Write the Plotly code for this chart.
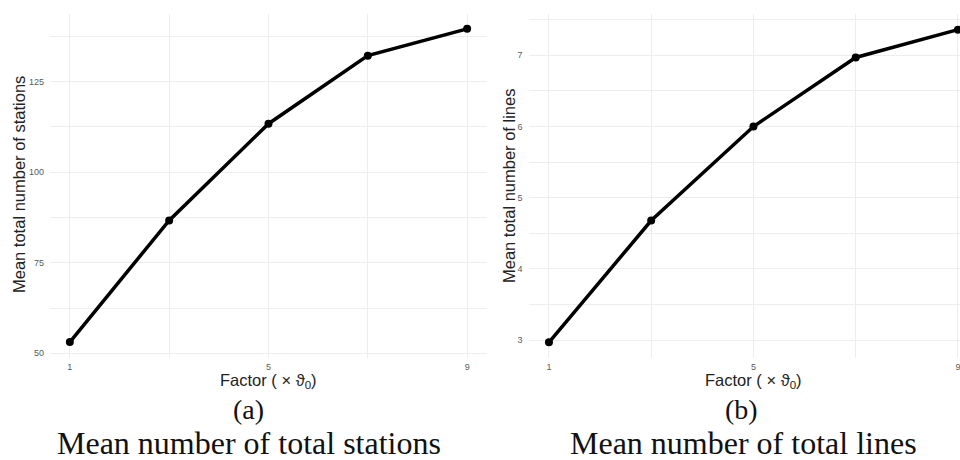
import plotly.graph_objects as go

# Scaling factor applied to theta_0
factor = [1, 3, 5, 7, 9]
# Mean total number of stations per factor
stations = [53.1, 86.7, 113.4, 132.2, 139.6]
# Mean total number of lines per factor
lines = [2.97, 4.68, 6.0, 6.97, 7.36]

x_ticks = [1, 5, 9]
station_ticks = [50, 75, 100, 125]
line_ticks = [3, 4, 5, 6, 7]

W, H = 960, 460
GRID = "#EDEDED"
TICK_FONT = dict(family="Liberation Sans, Arial, sans-serif", size=9, color="#5A5A5A")
TITLE_FONT = dict(family="Liberation Sans, Arial, sans-serif", size=16.5, color="#222222")
CAP_FONT = dict(family="Liberation Serif, Times New Roman, serif", size=32, color="#111111")
TAG_FONT = dict(family="Liberation Serif, Times New Roman, serif", size=28, color="#111111")

fig = go.Figure()

line_style = dict(color="black", width=3.5)
marker_style = dict(color="black", size=8)

fig.add_trace(go.Scatter(x=factor, y=stations, mode="lines+markers",
                         line=line_style, marker=marker_style,
                         xaxis="x", yaxis="y", cliponaxis=False, showlegend=False))
fig.add_trace(go.Scatter(x=factor, y=lines, mode="lines+markers",
                         line=line_style, marker=marker_style,
                         xaxis="x2", yaxis="y2", cliponaxis=False, showlegend=False))


def px_x(p):
    return p / W


def px_y(p):
    return 1 - p / H


ydom = [px_y(358), px_y(14)]

common_x = dict(tickvals=x_ticks, showgrid=True, gridcolor=GRID, gridwidth=1,
                zeroline=False, showline=False, ticks="", tickfont=TICK_FONT,
                ticklabelstandoff=2, ticklabeloverflow="allow",
                minor=dict(dtick=2, tick0=1, showgrid=True, gridcolor=GRID, gridwidth=0.6))
common_y = dict(showgrid=True, gridcolor=GRID, gridwidth=1, zeroline=False,
                showline=False, ticks="", tickfont=TICK_FONT, ticklabelstandoff=5)

fig.update_layout(
    width=W, height=H,
    margin=dict(l=0, r=0, t=0, b=0),
    paper_bgcolor="white", plot_bgcolor="white",
    xaxis=dict(domain=[px_x(50), px_x(487)], range=[0.6, 9.4], anchor="y", **common_x),
    yaxis=dict(domain=ydom, range=[48.7, 143.7], anchor="x", tickvals=station_ticks,
               minor=dict(dtick=12.5, tick0=50, showgrid=True, gridcolor=GRID, gridwidth=0.6),
               **common_y),
    xaxis2=dict(domain=[px_x(528.5), 1.0], range=[0.6, 9.04], anchor="y2", **common_x),
    yaxis2=dict(domain=ydom, range=[2.75, 7.58], anchor="x2", tickvals=line_ticks,
                minor=dict(dtick=0.5, tick0=3, showgrid=True, gridcolor=GRID, gridwidth=0.6),
                **common_y),
)

ann = []
xtitle = "Factor ( × ϑ<sub>0</sub>)"
for xr in ("x", "x2"):
    ann.append(dict(text=xtitle, xref=xr, x=5, yref="paper", y=px_y(381),
                    xanchor="center", yanchor="middle", showarrow=False, font=TITLE_FONT))

ann.append(dict(text="Mean total number of stations", xref="paper", x=px_x(19),
                yref="paper", y=px_y(185), textangle=-90, xanchor="center",
                yanchor="middle", showarrow=False, font=TITLE_FONT))
ann.append(dict(text="Mean total number of lines", xref="paper", x=px_x(509),
                yref="paper", y=px_y(186), textangle=-90, xanchor="center",
                yanchor="middle", showarrow=False, font=TITLE_FONT))

ann.append(dict(text="(a)", xref="paper", x=px_x(248), yref="paper", y=px_y(409),
                xanchor="center", yanchor="middle", showarrow=False, font=TAG_FONT))
ann.append(dict(text="Mean number of total stations", xref="paper", x=px_x(248.5),
                yref="paper", y=px_y(463), xanchor="center", yanchor="bottom",
                showarrow=False, font=CAP_FONT))
ann.append(dict(text="(b)", xref="paper", x=px_x(741.5), yref="paper", y=px_y(409),
                xanchor="center", yanchor="middle", showarrow=False, font=TAG_FONT))
ann.append(dict(text="Mean number of total lines", xref="paper", x=px_x(743),
                yref="paper", y=px_y(463), xanchor="center", yanchor="bottom",
                showarrow=False, font=CAP_FONT))

fig.update_layout(annotations=ann)

fig.write_html("out.html")
